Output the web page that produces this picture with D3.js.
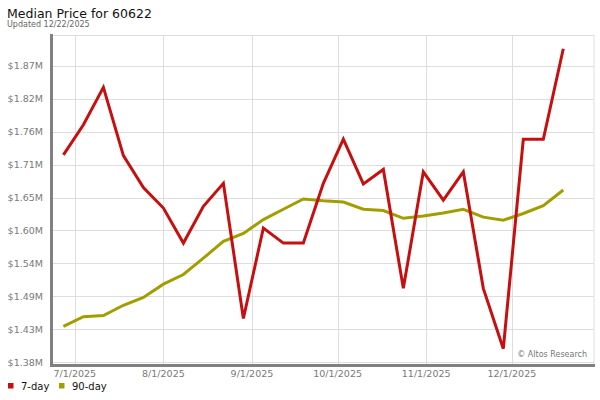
<!DOCTYPE html>
<html>
    <head>
        <title>Median Price for 60622</title>
        <style>
            body { margin: 0; background: #fff; }
            svg text { font-family: "DejaVu Sans", sans-serif; }
        </style>
    </head>
    <body>
        <script src="https://cdnjs.cloudflare.com/ajax/libs/d3/7.8.5/d3.min.js" charset="utf-8"></script>
        <script>

        var w = 600;
        var h = 400;

        // weekly observations
        var dates = ["2025-06-27", "2025-07-04", "2025-07-11", "2025-07-18", "2025-07-25",
                     "2025-08-01", "2025-08-08", "2025-08-15", "2025-08-22", "2025-08-29",
                     "2025-09-05", "2025-09-12", "2025-09-19", "2025-09-26", "2025-10-03",
                     "2025-10-10", "2025-10-17", "2025-10-24", "2025-10-31", "2025-11-07",
                     "2025-11-14", "2025-11-21", "2025-11-28", "2025-12-05", "2025-12-12",
                     "2025-12-19"];

        // median price, $M
        var day7 = [1.723, 1.773, 1.835, 1.722, 1.669, 1.635, 1.577, 1.638, 1.676, 1.452,
                    1.602, 1.577, 1.577, 1.676, 1.749, 1.675, 1.699, 1.502, 1.695, 1.648,
                    1.695, 1.502, 1.402, 1.749, 1.749, 1.899];
        var day90 = [1.439, 1.455, 1.457, 1.474, 1.487, 1.509, 1.525, 1.552, 1.580, 1.593,
                     1.616, 1.633, 1.650, 1.647, 1.645, 1.633, 1.631, 1.618, 1.622, 1.627,
                     1.633, 1.620, 1.615, 1.626, 1.639, 1.665];

        var yTicks = [1.38, 1.4345, 1.489, 1.5435, 1.598, 1.6525, 1.707, 1.7615, 1.816, 1.8705];
        var yTickLabels = ["$1.38M", "$1.43M", "$1.49M", "$1.54M", "$1.60M",
                           "$1.65M", "$1.71M", "$1.76M", "$1.82M", "$1.87M"];
        var xTicks = ["2025-07-01", "2025-08-01", "2025-09-01", "2025-10-01", "2025-11-01", "2025-12-01"];
        var xTickLabels = ["7/1/2025", "8/1/2025", "9/1/2025", "10/1/2025", "11/1/2025", "12/1/2025"];

        var seriesNames = ["7-day", "90-day"];
        var colors = ["#c80f0f", "#a39e00"];

        var parse = d3.utcParse("%Y-%m-%d");

        // plot box
        var pLeft = 52, pRight = 594, pTop = 35, pBottom = 364;

        var xScale = d3.scaleUtc()
                       .domain([new Date(Date.UTC(2025, 5, 23)), new Date(Date.UTC(2025, 11, 29, 18))])
                       .range([pLeft, pRight]);

        var yScale = d3.scaleLinear()
                       .domain([1.3767, 1.9217])
                       .range([pBottom, pTop]);

        var svg = d3.select("body")
                    .append("svg")
                    .attr("width", w)
                    .attr("height", h);

        // title
        svg.append("text")
            .attr("x", 7)
            .attr("y", 18)
            .attr("font-size", "12.5px")
            .attr("fill", "#111")
            .text("Median Price for 60622");

        svg.append("text")
            .attr("x", 7)
            .attr("y", 27)
            .attr("font-size", "8px")
            .attr("fill", "#666")
            .text("Updated 12/22/2025");

        // plot frame
        svg.append("rect")
            .attr("x", pLeft)
            .attr("y", pTop + 0.5)
            .attr("width", pRight - pLeft)
            .attr("height", pBottom - pTop)
            .attr("fill", "#fff")
            .attr("stroke", "#ddd");

        // horizontal grid + y labels
        svg.selectAll("line.hgrid")
            .data(yTicks)
            .enter()
            .append("line")
            .attr("class", "hgrid")
            .attr("x1", pLeft)
            .attr("x2", pRight)
            .attr("y1", function(d) { return Math.round(yScale(d)) + 0.5; })
            .attr("y2", function(d) { return Math.round(yScale(d)) + 0.5; })
            .attr("stroke", "#ddd");

        svg.selectAll("text.ylab")
            .data(yTicks)
            .enter()
            .append("text")
            .attr("class", "ylab")
            .attr("x", 43)
            .attr("y", function(d) { return yScale(d) + 3.5; })
            .attr("text-anchor", "end")
            .attr("font-size", "9.5px")
            .attr("fill", "#7a7a7a")
            .text(function(d, i) { return yTickLabels[i]; });

        // vertical grid + x labels
        svg.selectAll("line.vgrid")
            .data(xTicks)
            .enter()
            .append("line")
            .attr("class", "vgrid")
            .attr("x1", function(d) { return Math.round(xScale(parse(d))) + 0.5; })
            .attr("x2", function(d) { return Math.round(xScale(parse(d))) + 0.5; })
            .attr("y1", pTop)
            .attr("y2", pBottom)
            .attr("stroke", "#ddd");

        svg.selectAll("text.xlab")
            .data(xTicks)
            .enter()
            .append("text")
            .attr("class", "xlab")
            .attr("x", function(d) { return xScale(parse(d)); })
            .attr("y", 377)
            .attr("text-anchor", "middle")
            .attr("font-size", "9.5px")
            .attr("fill", "#7a7a7a")
            .text(function(d, i) { return xTickLabels[i]; });

        // axis lines
        svg.append("line")
            .attr("x1", 51.5).attr("x2", 51.5)
            .attr("y1", 34).attr("y2", 366.5)
            .attr("stroke", "#808080")
            .attr("stroke-width", 3);

        svg.append("line")
            .attr("x1", 50).attr("x2", 595)
            .attr("y1", 365.5).attr("y2", 365.5)
            .attr("stroke", "#808080")
            .attr("stroke-width", 3);

        // lines
        var line = d3.line()
                     .x(function(d, i) { return xScale(parse(dates[i])); })
                     .y(function(d) { return yScale(d); });

        [day90, day7].forEach(function(vals, k) {
            svg.append("path")
                .datum(vals)
                .attr("d", line)
                .attr("fill", "none")
                .attr("stroke", k == 0 ? colors[1] : colors[0])
                .attr("stroke-width", 3)
                .attr("stroke-linejoin", "miter");
        });

        svg.append("text")
            .attr("x", 587)
            .attr("y", 357)
            .attr("text-anchor", "end")
            .attr("font-size", "8px")
            .attr("fill", "#777")
            .text("\u00a9 Altos Research");

        // legend
        var legend = svg.selectAll("g.legend")
            .data(seriesNames)
            .enter()
            .append("g")
            .attr("class", "legend")
            .attr("transform", function(d, i) { return "translate(" + (8 + i * 51) + ",383)"; });

        legend.append("rect")
            .attr("width", 5.5)
            .attr("height", 5.5)
            .attr("fill", function(d, i) { return colors[i]; });

        legend.append("text")
            .attr("x", 13)
            .attr("y", 7)
            .attr("font-size", "10px")
            .attr("fill", "#111")
            .text(function(d) { return d; });

        </script>
    </body>
</html>
